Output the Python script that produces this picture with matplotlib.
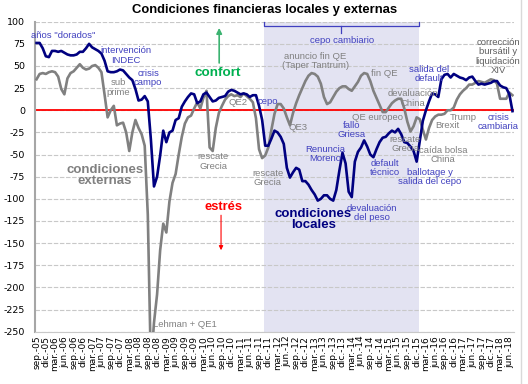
import matplotlib
matplotlib.use("Agg")
import matplotlib.pyplot as plt
from matplotlib.lines import Line2D

# ---------------- data ----------------
tick_labels = ["sep.-05", "dic.-05", "mar.-06", "jun.-06", "sep.-06", "dic.-06", "mar.-07", "jun.-07",
               "sep.-07", "dic.-07", "mar.-08", "jun.-08", "sep.-08", "dic.-08", "mar.-09", "jun.-09",
               "sep.-09", "dic.-09", "mar.-10", "jun.-10", "sep.-10", "dic.-10", "mar.-11", "jun.-11",
               "sep.-11", "dic.-11", "mar.-12", "jun.-12", "sep.-12", "dic.-12", "mar.-13", "jun.-13",
               "sep.-13", "dic.-13", "mar.-14", "jun.-14", "sep.-14", "dic.-14", "mar.-15", "jun.-15",
               "sep.-15", "dic.-15", "mar.-16", "jun.-16", "sep.-16", "dic.-16", "mar.-17", "jun.-17",
               "sep.-17", "dic.-17", "mar.-18", "jun.-18"]

# monthly index values, sep-05 onwards
locales = [
    76, 76, 70, 61, 60, 67, 67, 66, 67, 65,
    63, 62, 62, 63, 66, 66, 70, 75, 71, 69,
    67, 64, 56, 44, 43, 43, 44, 46, 45, 41,
    37, 34, 24, 11, 12, 16, 10, -33, -86, -75,
    -51, -23, -36, -25, -23, -11, -9, 4, 10, 15,
    19, 18, 8, 10, 18, 20, 15, 10, 11, 14,
    15, 16, 21, 23, 22, 20, 18, 19, 18, 15,
    17, 17, 5, -11, -40, -40, -32, -23, -25, -30,
    -38, -65, -76, -70, -65, -67, -80, -80, -84, -90,
    -95, -102, -100, -96, -96, -100, -102, -90, -68, -48,
    -60, -92, -98, -58, -47, -42, -34, -41, -50, -53,
    -44, -36, -31, -30, -26, -23, -25, -21, -27, -36,
    -37, -41, -46, -58, -35, -12, 0, 10, 19, 18,
    15, 35, 40, 41, 37, 41, 39, 37, 36, 34,
    37, 38, 33, 29, 30, 29, 30, 31, 33, 33,
    28, 26, 25, 18, -1]

externas = [
    35, 41, 42, 41, 43, 44, 43, 38, 24, 18,
    36, 42, 44, 48, 52, 48, 46, 47, 50, 51,
    48, 43, 18, -8, 0, 5, -17, -15, -14, -25,
    -46, -25, -11, -20, -27, -40, -118, -290, -240, -208,
    -158, -128, -138, -103, -82, -72, -50, -30, -15, -8,
    -6, 2, 9, 2, 14, 22, -42, -46, -20, -3,
    5, 12, 16, 18, 16, 17, 15, 19, 16, 13,
    9, -9, -44, -54, -51, -42, -22, -4, 7, 7,
    2, -8, -17, -3, 8, 17, 25, 33, 39, 42,
    41, 38, 30, 15, 7, 9, 15, 21, 25, 27,
    27, 24, 22, 27, 32, 39, 42, 41, 33, 22,
    14, 6, -2, -2, 3, 8, 11, 13, 13, 2,
    -13, -24, -18, -8, -10, -22, -33, -20, -11, -7,
    -5, -5, -4, 0, 0, 3, 12, 18, 22, 25,
    29, 29, 31, 33, 32, 31, 33, 35, 34, 30,
    13, 13, 13, 20, 17]

cepo_start = 73.6   # month index where the "cepo cambiario" period starts
cepo_end = 123.7    # month index where it ends

# ---------------- style ----------------
NARROW = ['Liberation Sans Narrow', 'DejaVu Sans Condensed', 'Liberation Sans', 'DejaVu Sans']
BLUE_TXT = '#4040bf'
GRAY_TXT = '#808080'

fig = plt.figure(figsize=(5.28, 3.84), dpi=100)
ax = fig.add_axes([35 / 528, 1 - 331.7 / 384, 479 / 528, 310 / 384])

months = list(range(len(locales)))

ax.axvspan(cepo_start, cepo_end, color='#e3e3f2', zorder=0.2, lw=0)
ax.plot(months, externas, color='#808080', lw=1.9, zorder=3, solid_joinstyle='round')
ax.plot(months, locales, color='#000080', lw=1.9, zorder=4, solid_joinstyle='round')
ax.axhline(0, color='#ff0000', lw=1.3, zorder=2.5)

ax.set_xlim(-0.5, 154.5)
ax.set_ylim(-250, 100)
ax.set_yticks(range(-250, 101, 25))
ax.set_yticklabels([str(v) for v in range(-250, 101, 25)], family='DejaVu Sans', fontsize=6.8)
ax.set_xticks(range(0, 3 * len(tick_labels), 3))
ax.set_xticklabels(tick_labels, rotation=90, family='DejaVu Sans', fontsize=6.5)
ax.tick_params(axis='y', length=0, pad=7)
ax.tick_params(axis='x', length=0, pad=3)

ax.set_axisbelow(True)
ax.yaxis.grid(True, linestyle=(0, (4, 1.5)), color='#c8c8c8', lw=0.8)
for s in ['top', 'right']:
    ax.spines[s].set_visible(False)
ax.spines['left'].set_color('#a6a6a6')
ax.spines['left'].set_linewidth(1.5)
ax.spines['bottom'].set_color('#c8c8c8')
ax.spines['bottom'].set_linewidth(0.8)

fig.text(265 / 528, 1 - 10.5 / 384, 'Condiciones financieras locales y externas',
         ha='center', va='center', fontsize=9.4, fontweight='bold', family='Liberation Sans')

# bracket for cepo cambiario
mid = (cepo_start + cepo_end) / 2
ax.plot([cepo_start, cepo_start, cepo_end, cepo_end], [100, 95, 95, 100], color=BLUE_TXT, lw=0.9, clip_on=False, zorder=5)
ax.plot([mid, mid], [95, 87.5], color=BLUE_TXT, lw=0.9, clip_on=False, zorder=5)

notes = [
    ('años "dorados"', 8.7, 83.9, BLUE_TXT),
    ('intervención\nINDEC', 29.0, 62.0, BLUE_TXT),
    ('crisis\ncampo', 36.1, 36.4, BLUE_TXT),
    ('sub\nprime', 26.4, 25.7, GRAY_TXT),
    ('rescate\nGrecia', 57.1, -58, GRAY_TXT),
    ('rescate\nGrecia', 74.8, -76.5, GRAY_TXT),
    ('QE2', 65.3, 8.3, GRAY_TXT),
    ('cepo', 74.9, 9.7, BLUE_TXT),
    ('cepo cambiario', 98.9, 79, BLUE_TXT),
    ('anuncio fin QE\n(Taper Tantrum)', 90.3, 55.6, GRAY_TXT),
    ('QE3', 84.6, -19, GRAY_TXT),
    ('fin QE', 112.6, 41, GRAY_TXT),
    ('devaluación\nChina', 121.8, 13.3, GRAY_TXT),
    ('QE europeo', 110.3, -7.6, GRAY_TXT),
    ('fallo\nGriesa', 102.0, -22.3, BLUE_TXT),
    ('Renuncia\nMoreno', 93.4, -49.7, BLUE_TXT),
    ('default\ntécnico', 112.8, -65, BLUE_TXT),
    ('devaluación\ndel peso', 108.6, -116.3, BLUE_TXT),
    ('rescate\nGrecia', 119.3, -38, GRAY_TXT),
    ('caída bolsa\nChina', 131.5, -50.5, GRAY_TXT),
    ('ballotage y\nsalida del cepo', 127.3, -75.7, BLUE_TXT),
    ('salida del\ndefault', 126.9, 41, BLUE_TXT),
    ('Trump', 138.2, -7.9, GRAY_TXT),
    ('Brexit', 132.8, -17.4, GRAY_TXT),
    ('corrección\nbursátil y\nliquidación\nXIV', 149.4, 60.7, '#5f5f5f'),
    ('crisis\ncambiaria', 149.5, -13.2, BLUE_TXT),
    ('Lehman + QE1', 48.0, -242.4, GRAY_TXT),
]
for txt, mx, vy, col in notes:
    ax.text(mx, vy, txt, ha='center', va='center', fontsize=6.8, color=col,
            family=NARROW, linespacing=1.05, zorder=6)

ax.text(22.2, -73.6, 'condiciones\nexternas', ha='center', va='center', fontsize=9.5,
        fontweight='bold', color='#808080', family=NARROW, linespacing=0.95, zorder=6)
ax.text(89.5, -123.5, 'condiciones\nlocales', ha='center', va='center', fontsize=9.5,
        fontweight='bold', color='#000080', family=NARROW, linespacing=0.95, zorder=6)
ax.text(58.7, 42, 'confort', ha='center', va='center', fontsize=9.7,
        fontweight='bold', color='#00b050', family=NARROW, zorder=6)
ax.text(60.5, -109.5, 'estrés', ha='center', va='center', fontsize=9.3,
        fontweight='bold', color='#ff0000', family=NARROW, zorder=6)

ax.annotate('', xy=(59.1, 93), xytext=(59.1, 53.4),
            arrowprops=dict(arrowstyle='-|>', color='#3cb371', lw=1.2, mutation_scale=8,
                            shrinkA=0, shrinkB=0))
ax.annotate('', xy=(59.7, -158), xytext=(59.7, -118.5),
            arrowprops=dict(arrowstyle='-|>', color='#ff0000', lw=0.8, mutation_scale=6,
                            shrinkA=0, shrinkB=0))

fig.add_artist(Line2D([521 / 528, 521 / 528], [0, 1], color='#d9d9d9', lw=1))

fig.savefig('out.png', dpi=100)
